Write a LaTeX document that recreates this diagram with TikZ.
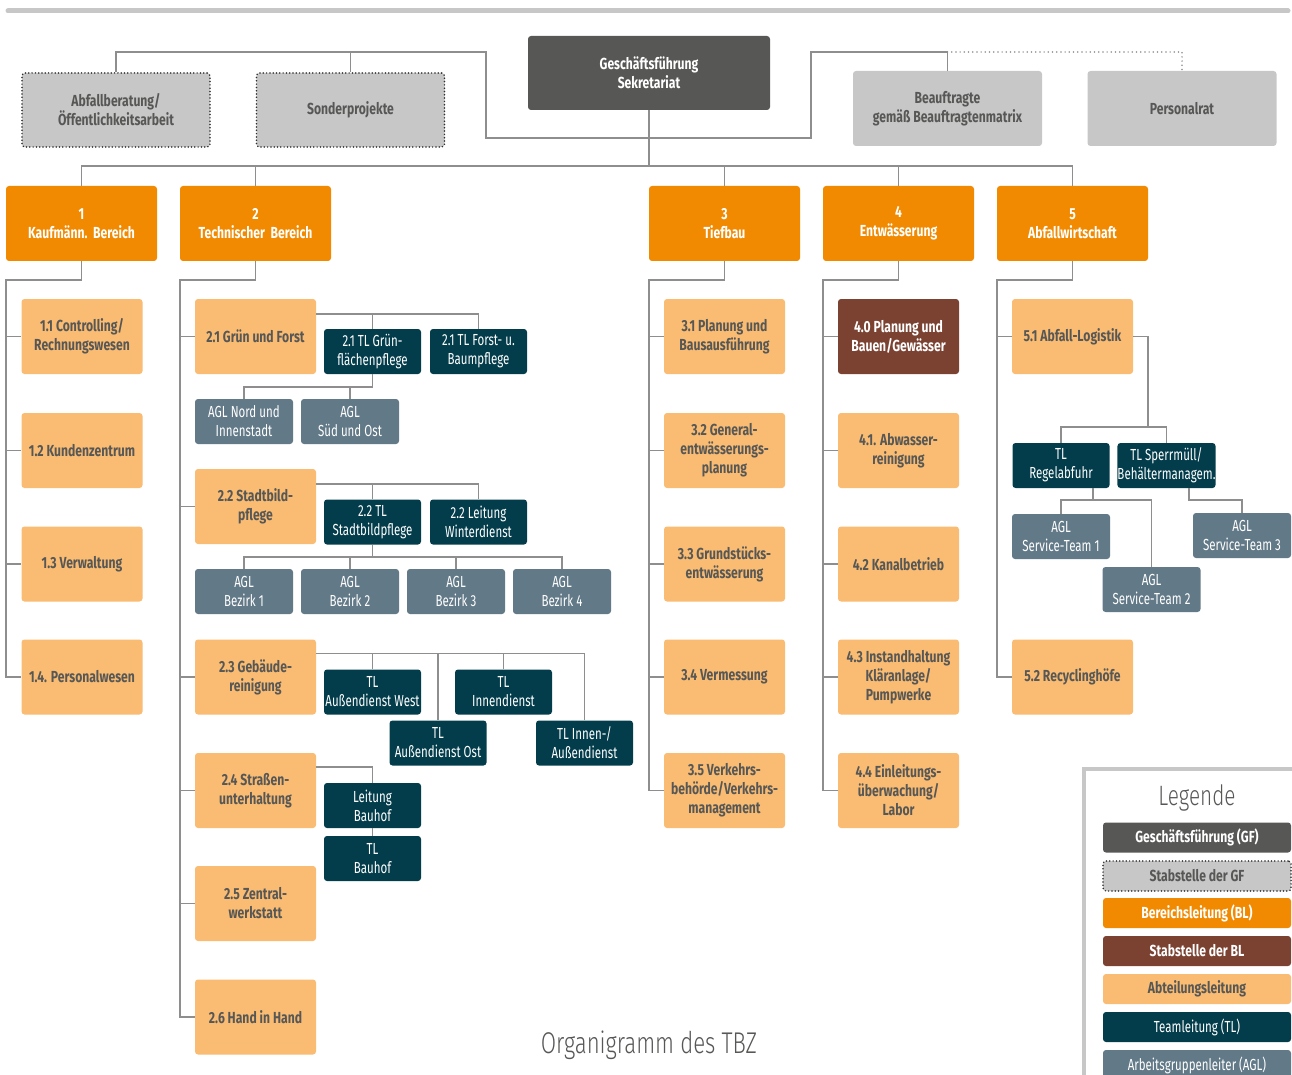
\documentclass[tikz,border=0pt]{standalone}
\usepackage{fontspec}
\setmainfont{Fira Sans}[FakeStretch=0.72, BoldFeatures={FakeStretch=0.76}]
\newfontfamily\lightfont{Fira Sans Light}[FakeStretch=0.74]
\usetikzlibrary{calc}
\definecolor{cGF}{HTML}{575756}
\definecolor{cStab}{HTML}{C6C7C6}
\definecolor{cBL}{HTML}{F18A00}
\definecolor{cSBL}{HTML}{7B4232}
\definecolor{cAbt}{HTML}{F9BC72}
\definecolor{cTL}{HTML}{033D4B}
\definecolor{cAGL}{HTML}{627987}
\definecolor{cTxt}{HTML}{575756}
\definecolor{cLine}{HTML}{8E8E8E}
\definecolor{cDot}{HTML}{2E2E2E}
\newcommand\labfont{\fontsize{16}{19}\selectfont}
\begin{document}
\begin{tikzpicture}[x=1pt,y=-1pt,
  box/.style={rectangle, rounded corners=3pt, inner sep=0pt, align=center},
  dotborder/.style={draw=cDot, line width=1.7pt, line cap=round, dash pattern=on 0pt off 3.3pt},
  gfbox/.style={box, fill=cGF, text=white, font=\labfont\bfseries, minimum width=242pt, minimum height=74pt},
  stabgf/.style={box, fill=cStab, text=cTxt, font=\labfont\bfseries, dotborder, minimum width=188pt, minimum height=74pt},
  stabp/.style={box, fill=cStab, text=cTxt, font=\labfont\bfseries, minimum width=189pt, minimum height=75pt},
  blbox/.style={box, fill=cBL, text=white, font=\labfont\bfseries, minimum width=151pt, minimum height=75pt},
  abt/.style={box, fill=cAbt, text=cTxt, font=\labfont\bfseries, minimum width=121pt, minimum height=75pt},
  sbl/.style={box, fill=cSBL, text=white, font=\labfont\bfseries, minimum width=121pt, minimum height=75pt},
  tlbox/.style={box, fill=cTL, text=white, font=\labfont, minimum width=97pt, minimum height=45pt},
  aglbox/.style={box, fill=cAGL, text=white, font=\labfont, minimum width=98pt, minimum height=45pt},
  conn/.style={draw=cLine, line width=1.4pt},
  dotconn/.style={draw=cLine, line width=1.7pt, line cap=round, dash pattern=on 0pt off 4.2pt},
  leg/.style={box, minimum width=188pt, minimum height=30pt, font=\labfont\bfseries},
]
\useasboundingbox (0,0) rectangle (1292,1075);
% top bar
\draw[cStab, line width=5pt, line cap=round] (8,11) -- (1288,11);

% top level
\node[gfbox] (gf) at (649,73) {Geschäftsführung\\Sekretariat};
\node[stabgf] (abf) at (116,110) {Abfallberatung/\\Öffentlichkeitsarbeit};
\node[stabgf] (sonder) at (350.5,110) {Sonderprojekte};
\node[stabp] (beauf) at (947.5,108.5) {Beauftragte\\gemäß Beauftragtenmatrix};
\node[stabp] (personal) at (1182,108.5) {Personalrat};

% BL row
\node[blbox] (bl1) at (81.5,223.5) {1\\Kaufmänn.\ \ Bereich};
\node[blbox] (bl2) at (255.5,223.5) {2\\Technischer\ \ Bereich};
\node[blbox] (bl3) at (724.5,223.5) {3\\Tiefbau};
\node[blbox] (bl4) at (898.5,223.5) {4\\Entwässerung};
\node[blbox] (bl5) at (1072.5,223.5) {5\\Abfallwirtschaft};

% column 1
\node[abt] (n11) at (82,336.5) {1.1 Controlling/\\Rechnungswesen};
\node[abt] (n12) at (82,450.5) {1.2 Kundenzentrum};
\node[abt] (n13) at (82,564) {1.3 Verwaltung};
\node[abt] (n14) at (82,677) {1.4. Personalwesen};

% column 2
\node[abt] (n21) at (255.5,336.5) {2.1 Grün und Forst};
\node[abt] (n22) at (255.5,506.5) {2.2 Stadtbild-\\pflege};
\node[abt] (n23) at (255.5,677) {2.3 Gebäude-\\reinigung};
\node[abt] (n24) at (255.5,790.5) {2.4 Straßen-\\unterhaltung};
\node[abt] (n25) at (255.5,903.5) {2.5 Zentral-\\werkstatt};
\node[abt] (n26) at (255.5,1017) {2.6 Hand in Hand};

\node[tlbox] (tl21a) at (372.5,351.5) {2.1 TL Grün-\\flächenpflege};
\node[tlbox] (tl21b) at (478.5,351.5) {2.1 TL Forst- u.\\Baumpflege};
\node[aglbox] (agl21a) at (244,421.5) {AGL Nord und\\Innenstadt};
\node[aglbox] (agl21b) at (350,421.5) {AGL\\Süd und Ost};

\node[tlbox] (tl22a) at (372.5,522) {2.2 TL\\Stadtbildpflege};
\node[tlbox] (tl22b) at (478.5,522) {2.2 Leitung\\Winterdienst};
\node[aglbox] (agl221) at (244,591.5) {AGL\\Bezirk 1};
\node[aglbox] (agl222) at (350,591.5) {AGL\\Bezirk 2};
\node[aglbox] (agl223) at (456,591.5) {AGL\\Bezirk 3};
\node[aglbox] (agl224) at (562,591.5) {AGL\\Bezirk 4};

\node[tlbox] (tl23a) at (372.5,692) {TL\\Außendienst West};
\node[tlbox] (tl23b) at (503.5,692) {TL\\Innendienst};
\node[tlbox] (tl23c) at (438,743) {TL\\Außendienst Ost};
\node[tlbox] (tl23d) at (584.5,743) {TL Innen-/\\Außendienst};

\node[tlbox] (lbh) at (372.5,805.5) {Leitung\\Bauhof};
\node[tlbox] (tlbh) at (372.5,858.5) {TL\\Bauhof};

% column 3
\node[abt] (n31) at (724.5,336.5) {3.1 Planung und\\Bausausführung};
\node[abt] (n32) at (724.5,450.5) {3.2 General-\\entwässerungs-\\planung};
\node[abt] (n33) at (724.5,564) {3.3 Grundstücks-\\entwässerung};
\node[abt] (n34) at (724.5,677) {3.4 Vermessung};
\node[abt] (n35) at (724.5,790.5) {3.5 Verkehrs-\\behörde/Verkehrs-\\management};

% column 4
\node[sbl] (n40) at (898.5,336.5) {4.0 Planung und\\Bauen/Gewässer};
\node[abt] (n41) at (898.5,450.5) {4.1. Abwasser-\\reinigung};
\node[abt] (n42) at (898.5,564) {4.2 Kanalbetrieb};
\node[abt] (n43) at (898.5,677) {4.3 Instandhaltung\\Kläranlage/\\Pumpwerke};
\node[abt] (n44) at (898.5,790.5) {4.4 Einleitungs-\\überwachung/\\Labor};

% column 5
\node[abt] (n51) at (1072.5,336.5) {5.1 Abfall-Logistik};
\node[abt] (n52) at (1072.5,677) {5.2 Recyclinghöfe};
\node[tlbox] (tl51a) at (1061,465.5) {TL\\Regelabfuhr};
\node[tlbox] (tl51b) at (1166.5,465.5) {TL Sperrmüll/\\Behältermanagem.};
\node[aglbox] (st1) at (1061,536.5) {AGL\\Service-Team 1};
\node[aglbox] (st2) at (1151.5,589.5) {AGL\\Service-Team 2};
\node[aglbox] (st3) at (1242,535.5) {AGL\\Service-Team 3};

% ---------- connectors ----------
\coordinate (topL) at (486,52);
\coordinate (topR) at (811,52);
\coordinate (gfj) at (649,138);
\coordinate (blbar) at (649,166);
\draw[conn] (gf.south) -- (blbar);
\draw[conn] (gfj) -| (topL) -| (abf.north);
\draw[conn] (sonder.north) -- (sonder.north |- topL);
\draw[conn] (gfj) -| (topR) -| (beauf.north);
\draw[dotconn] (beauf.north |- topR) -| (personal.north);
\foreach \b in {bl1,bl2,bl3,bl4,bl5} { \draw[conn] (\b.north) |- (blbar); }

% spines
\coordinate (s1) at (6,280);
\coordinate (s2) at (180,280);
\coordinate (s3) at (649,280);
\coordinate (s4) at (823,280);
\coordinate (s5) at (997,280);
\draw[conn] (bl1.south) |- (s1) |- (n14.west);
\foreach \n in {n11,n12,n13} { \draw[conn] (s1 |- \n.west) -- (\n.west); }
\draw[conn] (bl2.south) |- (s2) |- (n26.west);
\foreach \n in {n21,n22,n23,n24,n25} { \draw[conn] (s2 |- \n.west) -- (\n.west); }
\draw[conn] (bl3.south) |- (s3) |- (n35.west);
\foreach \n in {n31,n32,n33,n34} { \draw[conn] (s3 |- \n.west) -- (\n.west); }
\draw[conn] (bl4.south) |- (s4) |- (n44.west);
\foreach \n in {n40,n41,n42,n43} { \draw[conn] (s4 |- \n.west) -- (\n.west); }
\draw[conn] (bl5.south) |- (s5) |- (n52.west);
\draw[conn] (s5 |- n51.west) -- (n51.west);

% 2.1
\coordinate (h21) at ($(n21.north east)+(0,15)$);
\draw[conn] (h21) -| (tl21b.north);
\draw[conn] (tl21a.north) -- (tl21a.north |- h21);
\coordinate (j21) at (372.5,387);
\draw[conn] (tl21a.south) -- (j21) -| (agl21a.north);
\draw[conn] (agl21b.north) -- (agl21b.north |- j21);
% 2.2
\coordinate (h22) at ($(n22.north east)+(0,15)$);
\draw[conn] (h22) -| (tl22b.north);
\draw[conn] (tl22a.north) -- (tl22a.north |- h22);
\coordinate (j22) at (372.5,557);
\draw[conn] (tl22a.south) -- (j22) -| (agl221.north);
\draw[conn] (j22) -| (agl224.north);
\draw[conn] (agl222.north) -- (agl222.north |- j22);
\draw[conn] (agl223.north) -- (agl223.north |- j22);
% 2.3
\coordinate (h23) at ($(n23.north east)+(0,14)$);
\draw[conn] (h23) -| (tl23d.north);
\draw[conn] (tl23a.north) -- (tl23a.north |- h23);
\draw[conn] (tl23b.north) -- (tl23b.north |- h23);
\draw[conn] (tl23c.north) -- (tl23c.north |- h23);
% 2.4
\coordinate (h24) at ($(n24.north east)+(0,14)$);
\draw[conn] (h24) -| (lbh.north);
\draw[conn] (lbh.south) -- (tlbh.north);
% 5.1
\coordinate (j51) at (1148,427);
\draw[conn] (n51.east) -| (j51);
\draw[conn] (j51) -| (tl51a.north);
\draw[conn] (j51) -| (tl51b.north);
\coordinate (j52) at (1093,500);
\draw[conn] (j52 |- tl51a.south) -- (j52) -| (st1.north);
\draw[conn] (j52) -| (st2.north);
\coordinate (j53) at (1189,500);
\draw[conn] (j53 |- tl51b.south) -- (j53) -| (st3.north);

% ---------- title ----------
\node[text=cTxt, font=\lightfont\fontsize{30}{32}\selectfont, inner sep=0pt] (title) at (649,1045) {Organigramm des TBZ};

% ---------- legend ----------
\draw[cStab, line width=4pt] (1084,1080) -- (1084,768.5) -- (1295,768.5);
\node[text=cTxt, font=\lightfont\fontsize{28}{30}\selectfont, inner sep=0pt] (legtitle) at (1197,798) {Legende};
\node[leg, fill=cGF, text=white] (lg1) at (1197,837.5) {Geschäftsführung (GF)};
\node[leg, fill=cStab, text=cTxt, dotborder] (lg2) at (1197,876) {Stabstelle der GF};
\node[leg, fill=cBL, text=white] (lg3) at (1197,913) {Bereichsleitung (BL)};
\node[leg, fill=cSBL, text=white] (lg4) at (1197,951) {Stabstelle der BL};
\node[leg, fill=cAbt, text=cTxt] (lg5) at (1197,989) {Abteilungsleitung};
\node[leg, fill=cTL, text=white, font=\labfont] (lg6) at (1197,1027) {Teamleitung (TL)};
\node[leg, fill=cAGL, text=white, font=\labfont] (lg7) at (1197,1065) {Arbeitsgruppenleiter (AGL)};
\end{tikzpicture}
\end{document}
